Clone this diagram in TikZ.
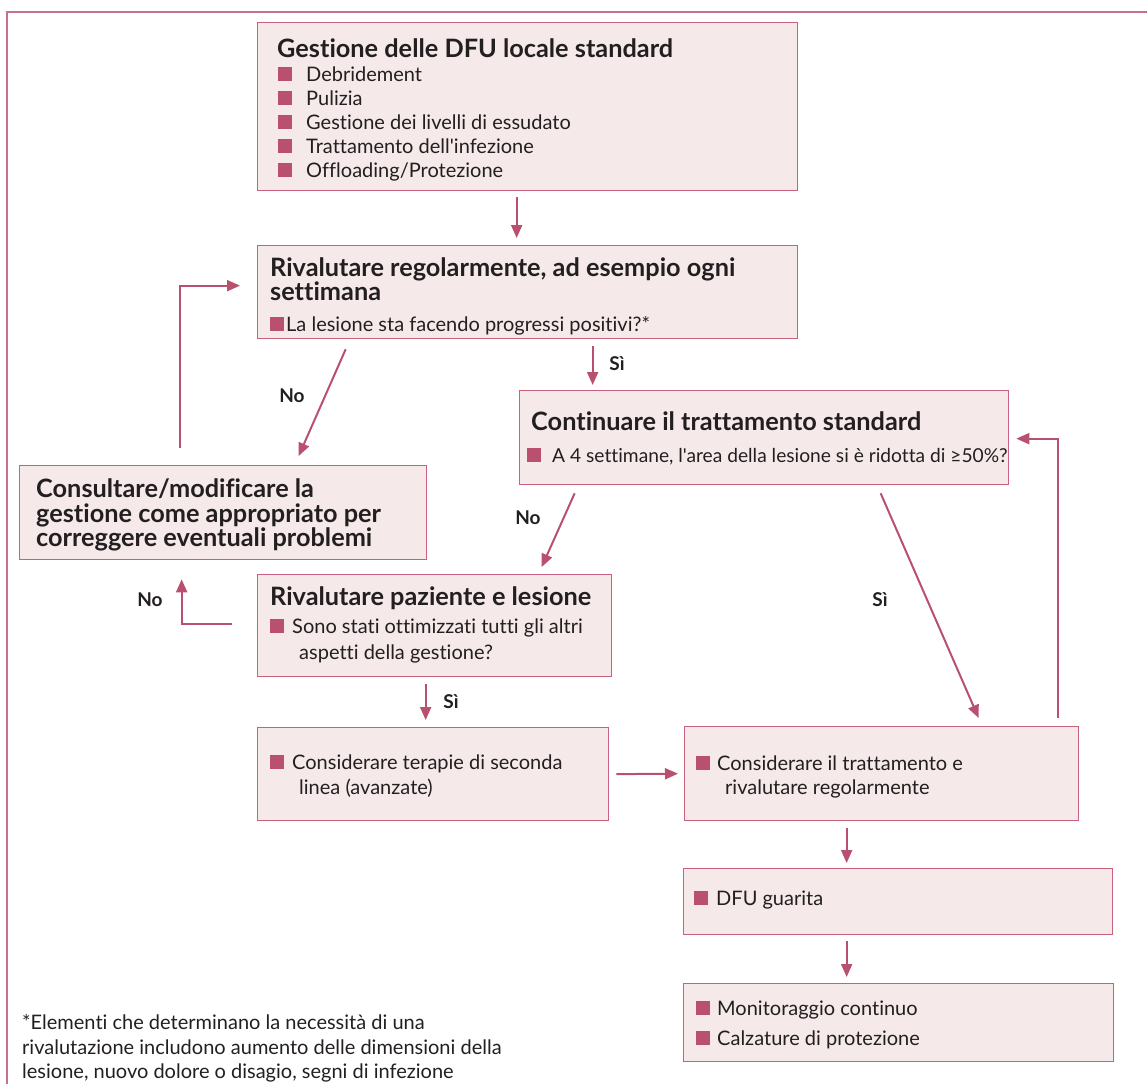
\documentclass[tikz,border=0pt]{standalone}
\usepackage{fontspec}
\setmainfont{Lato}[Ligatures={TeXOff,NoCommon}]
\usetikzlibrary{arrows.meta,calc}
\definecolor{boxf}{HTML}{F5E9EA}
\definecolor{boxc}{HTML}{C8607F}
\definecolor{arrc}{HTML}{B9506F}
\definecolor{frc}{HTML}{C8708A}
\definecolor{txc}{HTML}{231F20}
\tikzset{
  box/.style={draw=boxc, fill=boxf, line width=1.3pt, rectangle, inner sep=0pt, anchor=north west},
  tx/.style={inner sep=0pt, anchor=base west, text=txc, font=\fontsize{20}{24}\selectfont},
  txs/.style={tx, font=\fontsize{19.2}{23}\selectfont},
  ttl/.style={inner sep=0pt, anchor=base west, text=txc, font=\fontsize{25.3}{28}\selectfont\bfseries},
  lbl/.style={inner sep=0pt, anchor=center, text=txc, font=\fontsize{19}{22}\selectfont\bfseries},
  sqr/.style={fill=arrc, draw=none, minimum size=14pt, inner sep=0pt, anchor=south west},
  arr/.style={draw=arrc, line width=2pt, -{Triangle[length=13pt,width=11pt]}},
}
\begin{document}
\begin{tikzpicture}[x=1pt,y=-1pt]
\useasboundingbox (0,0) rectangle (1147,1084);
% outer frame
\draw[frc, line width=1.2pt] (7,1084) |- (1147,12);

% Box 1
\node[box, minimum width=540pt, minimum height=168pt] (b1) at (257,22) {};
\node[ttl] (b1t) at (277,57) {Gestione delle DFU locale standard};
\foreach \yy/\tt [count=\i] in {81/{Debridement}, 105.5/{Pulizia}, 129.5/{Gestione dei livelli di essudato}, 153.5/{Trattamento dell'infezione}, 177.5/{Offloading/Protezione}}{
  \node[sqr] (b1s\i) at (278,\yy) {};
  \node[tx] (b1i\i) at (306,\yy) {\tt};
}

% Box 2
\node[box, minimum width=540pt, minimum height=93pt] (b2) at (257,245) {};
\node[ttl] (b2t1) at (270,276.5) {Rivalutare regolarmente, ad esempio ogni};
\node[ttl] (b2t2) at (270,300.5) {settimana};
\node[sqr] (b2s) at (270,331) {};
\node[tx] (b2i) at (286,331) {La lesione sta facendo progressi positivi?*};

% Box 3
\node[box, minimum width=407pt, minimum height=94pt] (b3) at (19,465) {};
\node[ttl] (b3t1) at (36,497.5) {Consultare/modificare la};
\node[ttl] (b3t2) at (36,522) {gestione come appropriato per};
\node[ttl] (b3t3) at (36,546) {correggere eventuali problemi};

% Box 4
\node[box, minimum width=489pt, minimum height=94pt] (b4) at (519,390) {};
\node[ttl] (b4t) at (531,430.5) {Continuare il trattamento standard};
\node[sqr] (b4s) at (527,462) {};
\node[txs] (b4i) at (552,462) {A 4 settimane, l'area della lesione si è ridotta di ≥50\%?};

% Box 5
\node[box, minimum width=354pt, minimum height=102pt] (b5) at (257,574) {};
\node[ttl] (b5t) at (270,605.5) {Rivalutare paziente e lesione};
\node[sqr] (b5s) at (270,633) {};
\node[tx] (b5i1) at (292,633) {Sono stati ottimizzati tutti gli altri};
\node[tx] (b5i2) at (299,659) {aspetti della gestione?};

% Box 6
\node[box, minimum width=351pt, minimum height=93pt] (b6) at (257,727) {};
\node[sqr] (b6s) at (270,769) {};
\node[tx] (b6i1) at (292,769) {Considerare terapie di seconda};
\node[tx] (b6i2) at (299,794) {linea (avanzate)};

% Box 7
\node[box, minimum width=394pt, minimum height=94pt] (b7) at (684,726) {};
\node[sqr] (b7s) at (696,770) {};
\node[tx] (b7i1) at (717,770) {Considerare il trattamento e};
\node[tx] (b7i2) at (725,794) {rivalutare regolarmente};

% Box 8
\node[box, minimum width=429pt, minimum height=66pt] (b8) at (683,868) {};
\node[sqr] (b8s) at (694,905) {};
\node[tx] (b8i) at (716,905) {DFU guarita};

% Box 9
\node[box, minimum width=430pt, minimum height=78pt] (b9) at (683,983) {};
\node[sqr] (b9s1) at (696,1015) {};
\node[tx] (b9i1) at (717,1015) {Monitoraggio continuo};
\node[sqr] (b9s2) at (696,1045) {};
\node[tx] (b9i2) at (717,1045) {Calzature di protezione};

% Footnote
\node[tx] (fn1) at (22,1029) {*Elementi che determinano la necessità di una};
\node[tx] (fn2) at (22,1054) {rivalutazione includono aumento delle dimensioni della};
\node[tx] (fn3) at (22,1078) {lesione, nuovo dolore o disagio, segni di infezione};

% Connectors
\draw[arr] ($(b1.south)+(-11,6)$) -- ($(b2.north)+(-11,-7)$);
\draw[arr] ($(b2.south)+(65,7)$) -- ($(b4.north)+(-171.5,-5)$);
\node[lbl] (l1) at (617,364) {Sì};
\draw[arr] ($(b2.south)+(-182,10)$) -- ($(b3.north)+(75.5,-9)$);
\node[lbl] (l2) at (292,396) {No};
\draw[arr] ($(b3.north)+(-43.5,-17)$) |- ($(b2.west)+(-17,-6.5)$);
\draw[arr] ($(b4.south)+(-189.5,8)$) -- ($(b5.north)+(107,-7)$);
\node[lbl] (l3) at (528,518) {No};
\draw[arr] ($(b4.south)+(116.5,8)$) -- ($(b7.north)+(97,-8)$);
\node[lbl] (l4) at (880,600) {Sì};
\draw[arr] ($(b7.north)+(176,-8)$) |- ($(b4.east)+(7,1)$);
\draw[arr] ($(b5.west)+(-25,-2)$) -| ($(b3.south)+(-41.5,19)$);
\node[lbl] (l5) at (150,600) {No};
\draw[arr] ($(b5.south)+(-9,7)$) -- ($(b6.north)+(-7.5,-7)$);
\node[lbl] (l6) at (451,702) {Sì};
\draw[arr] ($(b6.east)+(7,0)$) -- ($(b7.west)+(-6,0)$);
\draw[arr] ($(b7.south)+(-35,7)$) -- ($(b8.north)+(-51.5,-5)$);
\draw[arr] ($(b8.south)+(-51.5,6)$) -- ($(b9.north)+(-52,-6)$);
\end{tikzpicture}
\end{document}
